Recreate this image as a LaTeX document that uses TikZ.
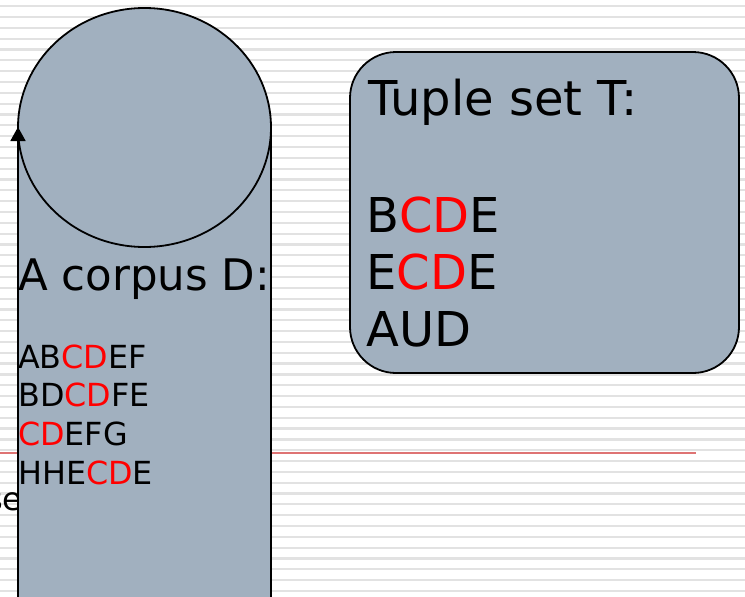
\documentclass[tikz,border=0pt]{standalone}
\usepackage{fontspec}
\setmainfont{DejaVu Sans}
\usetikzlibrary{arrows.meta}
\definecolor{shapefill}{RGB}{161,176,191}
\definecolor{stripe}{RGB}{226,226,226}
\definecolor{redline}{RGB}{222,115,115}
\definecolor{hl}{RGB}{255,0,0}
\newcommand{\hlcd}{\textcolor{hl}{CD}}
\begin{document}
\begin{tikzpicture}[x=1pt,y=-1pt,
  big/.style={font=\fontsize{48}{56}\selectfont, inner sep=0pt, anchor=base west},
  mid/.style={font=\fontsize{43.5}{52}\selectfont, inner sep=0pt, anchor=base west},
  small/.style={font=\fontsize{31.8}{37}\selectfont, inner sep=0pt, anchor=base west},
  outline/.style={draw=black, line width=1.8pt}]
\useasboundingbox (0,0) rectangle (745,597);
\fill[white] (0,0) rectangle (745,597);
\foreach \k in {0,...,55} { \fill[stripe] (0,{5.1+10.83*\k}) rectangle (745,{7.3+10.83*\k}); }
% red rule
\coordinate (rl) at (0,452.7);
\coordinate (rr) at (696,452.7);
\draw[redline, line width=2pt] (rl) -- (rr);
% partly hidden text
\node[font=\fontsize{32}{38}\selectfont, inner sep=0pt, anchor=base west] (se) at (-14,510) {se};
% corpus shape
\coordinate (lb) at (18,605);
\coordinate (lt) at (18,127);
\coordinate (rb) at (271,605);
\coordinate (rt) at (271,127);
\coordinate (cc) at (144.5,127.5);
\fill[shapefill] (lt) rectangle (rb);
\draw[outline, fill=shapefill] (cc) ellipse [x radius=126.5pt, y radius=119.5pt];
\draw[outline] (rt) -- (rb);
\draw[outline, -{Triangle[length=14pt,width=15pt]}] (lb) -- (lt);
% tuple set box
\coordinate (bx1) at (350,52);
\coordinate (bx2) at (739,373);
\draw[outline, fill=shapefill, rounded corners=46pt] (bx1) rectangle (bx2);
% texts
\node[mid] (corpus) at (18,290) {A corpus D:};
\node[small] (c1) at (18,368) {AB\hlcd EF};
\node[small] (c2) at (18,406) {BD\hlcd FE};
\node[small] (c3) at (18,445) {\hlcd EFG};
\node[small] (c4) at (18,484) {HHE\hlcd E};
\node[big] (tt) at (368,115) {Tuple set T:};
\node[big] (t1) at (366,232) {B\hlcd E};
\node[big] (t2) at (366,289) {E\hlcd E};
\node[big] (t3) at (366,346) {AUD};
\end{tikzpicture}
\end{document}
